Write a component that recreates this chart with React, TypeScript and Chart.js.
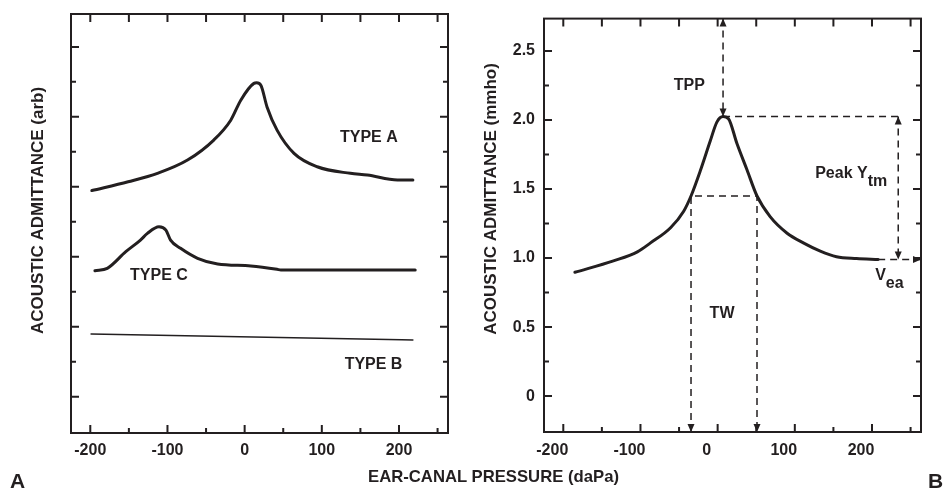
import { useEffect, useRef } from "react";
import { Chart, registerables } from "chart.js";

Chart.register(...registerables);

// ---------- shared axes ----------
const xMajorTicks = [-200, -100, 0, 100, 200];
const xMinorTicks = [-150, -50, 50, 150, 250];
const yMajorTicks = [0, 0.5, 1.0, 1.5, 2.0, 2.5];
const yMinorTicks = [0.25, 0.75, 1.25, 1.75, 2.25];
const xRange = [-225, 263.5];
const yRange = [-0.26, 2.735];

// ---------- panel A (arbitrary admittance) ----------
const typeAPressure = [-198, -151, -113, -74, -40, -18, -5, 12, 15.5, 21, 29, 42, 64, 94, 137, 159, 198, 218];
const typeAAdmittance = [1.473, 1.536, 1.596, 1.691, 1.834, 1.976, 2.119, 2.239, 2.243, 2.226, 2.071, 1.905, 1.739, 1.643, 1.596, 1.584, 1.548, 1.548];

const typeCPressure = [-194, -178, -154, -135, -126, -111, -102, -96, -83, -61, -35, 8, 42, 47, 221];
const typeCAdmittance = [0.9, 0.917, 1.036, 1.119, 1.167, 1.214, 1.19, 1.119, 1.06, 0.989, 0.948, 0.934, 0.91, 0.905, 0.905];

const typeBPressure = [-199, 218];
const typeBAdmittance = [0.448, 0.405];

const panelALabels = [
  { text: "TYPE A", x: 161, y: 1.85 },
  { text: "TYPE C", x: -111, y: 0.864 },
  { text: "TYPE B", x: 167, y: 0.23 },
];

// ---------- panel B (mmho) ----------
const tympPressure = [-185, -135, -104, -87, -61, -44, -34.5, -22, -9.5, -1, 7, 14, 25, 38, 51, 68, 90, 111, 133, 154, 180, 208];
const tympAdmittance = [0.897, 0.98, 1.045, 1.11, 1.22, 1.34, 1.45, 1.64, 1.85, 1.985, 2.025, 2.01, 1.83, 1.64, 1.45, 1.3, 1.18, 1.11, 1.05, 1.01, 0.997, 0.99];

const tppPressure = 7;
const peakAdmittance = 2.025;
const twLowPressure = -34.5;
const twHighPressure = 51;
const twAdmittance = 1.45;
const veaAdmittance = 0.99;
const veaStartPressure = 208;
const peakYtmPressure = 234;

const panelBLabels = [
  { text: "TPP", x: -36.6, y: 2.251 },
  { text: "TW", x: 5.7, y: 0.6 },
  { text: "Peak Y", sub: "tm", x: 126.4, y: 1.61, left: true },
  { text: "V", sub: "ea", x: 204.1, y: 0.875, left: true },
];

// ---------- styling ----------
const INK = "#231f20";
const FAMILY = "'Liberation Sans', Arial, Helvetica, sans-serif";
Chart.defaults.font.family = FAMILY;
Chart.defaults.color = INK;

const pts = (xs: number[], ys: number[]) => xs.map((x, i) => ({ x, y: ys[i] }));

const framePlugin = {
  id: "frame",
  afterDraw(chart: any) {
    const { ctx, chartArea: a, scales } = chart;
    const x = scales.x;
    const y = scales.y;
    ctx.save();
    ctx.strokeStyle = INK;
    ctx.lineWidth = 2;
    ctx.strokeRect(a.left, a.top, a.right - a.left, a.bottom - a.top);
    ctx.beginPath();
    const major = 8;
    const minor = 5;
    xMajorTicks.forEach((v) => {
      const p = x.getPixelForValue(v);
      ctx.moveTo(p, a.bottom); ctx.lineTo(p, a.bottom - major);
      ctx.moveTo(p, a.top); ctx.lineTo(p, a.top + major);
    });
    xMinorTicks.forEach((v) => {
      const p = x.getPixelForValue(v);
      ctx.moveTo(p, a.bottom); ctx.lineTo(p, a.bottom - minor);
      ctx.moveTo(p, a.top); ctx.lineTo(p, a.top + major);
    });
    yMajorTicks.forEach((v) => {
      const p = y.getPixelForValue(v);
      ctx.moveTo(a.left, p); ctx.lineTo(a.left + major, p);
      ctx.moveTo(a.right, p); ctx.lineTo(a.right - major, p);
    });
    yMinorTicks.forEach((v) => {
      const p = y.getPixelForValue(v);
      ctx.moveTo(a.left, p); ctx.lineTo(a.left + minor, p);
      ctx.moveTo(a.right, p); ctx.lineTo(a.right - minor, p);
    });
    ctx.stroke();
    ctx.restore();
  },
};

const makeLabelPlugin = (labels: any[]) => ({
  id: "labels",
  afterDraw(chart: any) {
    const { ctx, scales } = chart;
    ctx.save();
    ctx.fillStyle = INK;
    ctx.font = `bold 16px ${FAMILY}`;
    ctx.textBaseline = "middle";
    labels.forEach((l) => {
      const px = scales.x.getPixelForValue(l.x);
      const py = scales.y.getPixelForValue(l.y);
      ctx.textAlign = l.left ? "left" : "center";
      ctx.fillText(l.text, px, py);
      if (l.sub) {
        const w = ctx.measureText(l.text).width;
        ctx.textAlign = "left";
        ctx.fillText(l.sub, px + w, py + 8);
      }
    });
    ctx.restore();
  },
});

const makeTitlePlugin = (text: string, cx: number, cy: number) => ({
  id: "ytitle",
  afterDraw(chart: any) {
    const { ctx } = chart;
    ctx.save();
    ctx.fillStyle = INK;
    ctx.font = `bold 17px ${FAMILY}`;
    ctx.textAlign = "center";
    ctx.textBaseline = "middle";
    ctx.translate(cx, cy);
    ctx.rotate(-Math.PI / 2);
    ctx.fillText(text, 0, 0);
    ctx.restore();
  },
});

// arrowheads: tip at data point, direction
const arrows = [
  { x: tppPressure, y: yRange[1], dir: "up" },
  { x: tppPressure, y: peakAdmittance, dir: "down" },
  { x: peakYtmPressure, y: peakAdmittance, dir: "up" },
  { x: peakYtmPressure, y: veaAdmittance, dir: "down" },
  { x: xRange[1], y: veaAdmittance, dir: "right" },
  { x: twLowPressure, y: yRange[0], dir: "down" },
  { x: twHighPressure, y: yRange[0], dir: "down" },
];

const arrowPlugin = {
  id: "arrows",
  afterDraw(chart: any) {
    const { ctx, scales } = chart;
    ctx.save();
    ctx.fillStyle = INK;
    const L = 8;
    const W = 3.5;
    arrows.forEach((a) => {
      const px = scales.x.getPixelForValue(a.x);
      const py = scales.y.getPixelForValue(a.y);
      ctx.beginPath();
      ctx.moveTo(px, py);
      if (a.dir === "up") { ctx.lineTo(px - W, py + L); ctx.lineTo(px + W, py + L); }
      if (a.dir === "down") { ctx.lineTo(px - W, py - L); ctx.lineTo(px + W, py - L); }
      if (a.dir === "right") { ctx.lineTo(px - L, py - W); ctx.lineTo(px - L, py + W); }
      ctx.closePath();
      ctx.fill();
    });
    ctx.restore();
  },
};

const xScale = (height: number, padding: number, labelOffset: number) => ({
  type: "linear",
  min: xRange[0],
  max: xRange[1],
  grid: { display: false, drawTicks: false },
  border: { display: false },
  afterBuildTicks: (s: any) => { s.ticks = xMajorTicks.map((value) => ({ value })); },
  afterFit: (s: any) => { s.height = height; },
  ticks: {
    autoSkip: false,
    maxRotation: 0,
    padding,
    labelOffset,
    color: INK,
    font: { size: 16, weight: "bold" },
    callback: (v: any) => String(v),
  },
});

const yScale = (width: number, showLabels: boolean) => ({
  type: "linear",
  min: yRange[0],
  max: yRange[1],
  grid: { display: false, drawTicks: false },
  border: { display: false },
  afterBuildTicks: (s: any) => { s.ticks = yMajorTicks.map((value) => ({ value })); },
  afterFit: (s: any) => { s.width = width; },
  ticks: {
    display: showLabels,
    autoSkip: false,
    padding: 9,
    color: INK,
    font: { size: 16, weight: "bold" },
    callback: (v: any) => (v === 0 ? "0" : Number(v).toFixed(1)),
  },
});

const curve = (data: any[], width: number) => ({
  data,
  borderColor: INK,
  borderWidth: width,
  pointRadius: 0,
  fill: false,
  cubicInterpolationMode: "monotone",
  borderCapStyle: "round",
  borderJoinStyle: "round",
});

const dashed = (data: any[]) => ({
  data,
  borderColor: INK,
  borderWidth: 1.5,
  borderDash: [7, 5],
  pointRadius: 0,
  fill: false,
  tension: 0,
  clip: false,
});

const commonOptions = {
  responsive: false,
  animation: false,
  events: [],
  plugins: { legend: { display: false }, tooltip: { enabled: false }, title: { display: false } },
};

const configA = () => ({
  type: "line",
  data: {
    datasets: [
      curve(pts(typeAPressure, typeAAdmittance), 3),
      curve(pts(typeCPressure, typeCAdmittance), 3),
      curve(pts(typeBPressure, typeBAdmittance), 1.5),
    ],
  },
  options: {
    ...commonOptions,
    layout: { padding: { left: 0, top: 14, right: 22, bottom: 0 } },
    scales: { x: xScale(58, 8, 0), y: yScale(71, false) },
  },
  plugins: [framePlugin, makeLabelPlugin(panelALabels), makeTitlePlugin("ACOUSTIC ADMITTANCE (arb)", 38, 210.5)],
});

const configB = () => ({
  type: "line",
  data: {
    datasets: [
      curve(pts(tympPressure, tympAdmittance), 3),
      dashed([{ x: tppPressure, y: yRange[1] }, { x: tppPressure, y: peakAdmittance }]),
      dashed([{ x: tppPressure, y: peakAdmittance }, { x: peakYtmPressure, y: peakAdmittance }]),
      dashed([{ x: peakYtmPressure, y: peakAdmittance }, { x: peakYtmPressure, y: veaAdmittance }]),
      dashed([{ x: veaStartPressure, y: veaAdmittance }, { x: xRange[1], y: veaAdmittance }]),
      dashed([{ x: twLowPressure, y: yRange[0] }, { x: twLowPressure, y: twAdmittance }, { x: twHighPressure, y: twAdmittance }, { x: twHighPressure, y: yRange[0] }]),
    ],
  },
  options: {
    ...commonOptions,
    layout: { padding: { left: 0, top: 14, right: 22, bottom: 0 } },
    scales: { x: xScale(59, 9, -11), y: yScale(74, true) },
  },
  plugins: [framePlugin, arrowPlugin, makeLabelPlugin(panelBLabels), makeTitlePlugin("ACOUSTIC ADMITTANCE (mmho)", 21, 199)],
});

function ChartCanvas({ config, left, width, height }: any) {
  const ref = useRef<HTMLCanvasElement>(null);
  useEffect(() => {
    const chart = new Chart(ref.current as HTMLCanvasElement, config() as any);
    return () => chart.destroy();
  }, []);
  return (
    <canvas
      ref={ref}
      width={width}
      height={height}
      style={{ position: "absolute", left, top: 0, width, height }}
    />
  );
}

export default function App() {
  const textStyle: any = {
    position: "absolute",
    fontFamily: FAMILY,
    fontWeight: "bold",
    color: INK,
    lineHeight: 1,
    whiteSpace: "nowrap",
  };
  return (
    <div style={{ position: "fixed", left: 0, top: 0, width: 943, height: 491, background: "#fff", overflow: "hidden" }}>
      <ChartCanvas config={configA} left={0} width={470} height={491} />
      <ChartCanvas config={configB} left={470} width={473} height={491} />
      <div style={{ ...textStyle, fontSize: 16.7, left: 293.5, width: 400, textAlign: "center", top: 469 }}>
        EAR-CANAL PRESSURE (daPa)
      </div>
      <div style={{ ...textStyle, fontSize: 21, left: 10, top: 470 }}>A</div>
      <div style={{ ...textStyle, fontSize: 21, left: 928, top: 470 }}>B</div>
    </div>
  );
}
